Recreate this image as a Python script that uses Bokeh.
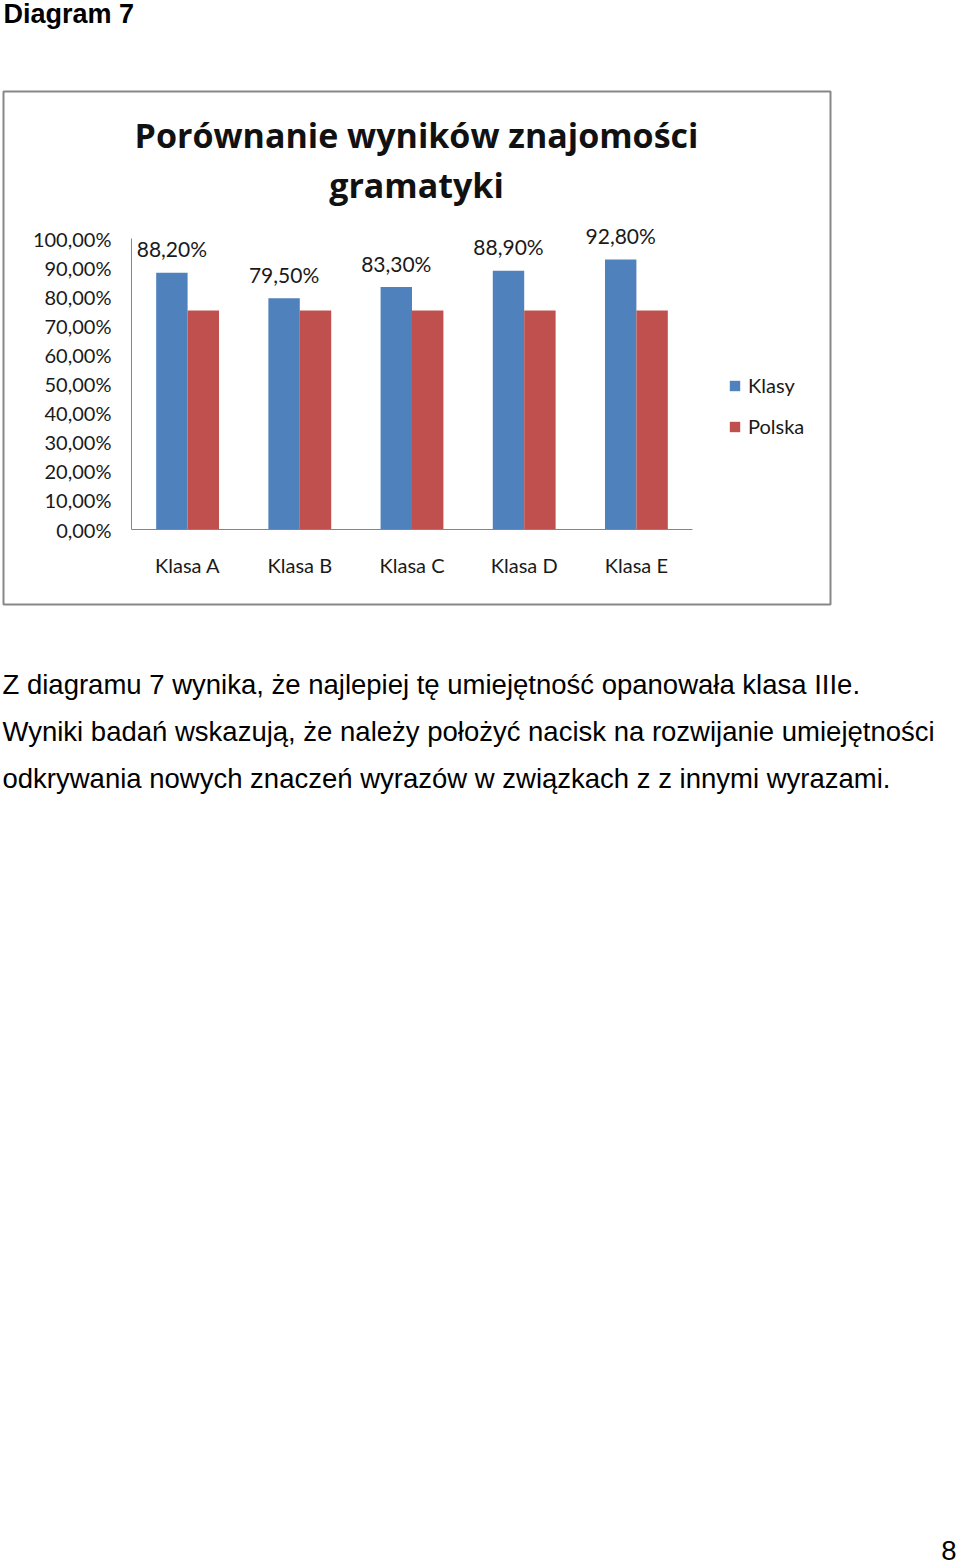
from bokeh.plotting import figure
from bokeh.models import (ColumnDataSource, Range1d, Label, LabelSet,
                          BoxAnnotation, Legend, LegendItem, FixedTicker)
from bokeh.transform import dodge
from bokeh.embed import file_html
from bokeh.resources import INLINE
from bokeh.core.properties import value

# ---- data ----
categories = ["Klasa A", "Klasa B", "Klasa C", "Klasa D", "Klasa E"]
klasy = [88.2, 79.5, 83.3, 88.9, 92.8]
polska = [75.3, 75.3, 75.3, 75.3, 75.3]
y_ticks = [0, 10, 20, 30, 40, 50, 60, 70, 80, 90, 100]
series_names = ["Klasy", "Polska"]

chart_title_1 = "Porównanie wyników znajomości"
chart_title_2 = "gramatyki"
page_heading = "Diagram 7"
paragraph = [
    "Z diagramu 7 wynika, że najlepiej tę umiejętność opanowała klasa IIIe.",
    "Wyniki badań wskazują, że należy położyć nacisk na rozwijanie umiejętności",
    "odkrywania nowych znaczeń wyrazów w związkach z z innymi wyrazami.",
]
page_number = "8"


def pct(v):
    return f"{v:.2f}%".replace(".", ",")


BLUE = "#4F81BD"
RED = "#C0504D"
CHART_FONT = "Lato"
TITLE_FONT = "Open Sans"
PAGE_FONT = "Liberation Sans"
TXT = "#1a1a1a"

# page geometry (pixels)
W, H = 960, 1568
A_LEFT, A_RIGHT, A_TOP, A_BOTTOM = 131, 692, 238, 529   # plot area of the chart
n = len(categories)
cat_w = (A_RIGHT - A_LEFT) / n
x0_px = A_LEFT + cat_w / 2
y_scale = (A_BOTTOM - A_TOP) / 100.0

idx = list(range(n))
src = ColumnDataSource(dict(
    idx=idx, klasy=klasy, polska=polska,
    klasy_lbl=[pct(v) for v in klasy],
))

p = figure(width=W, height=H,
           x_range=Range1d(-x0_px / cat_w, (W - x0_px) / cat_w),
           y_range=Range1d(-(H - A_BOTTOM) / y_scale, A_BOTTOM / y_scale),
           output_backend="svg", toolbar_location=None,
           min_border=0, min_border_left=0, min_border_right=0,
           min_border_top=0, min_border_bottom=0)
p.outline_line_color = None
p.background_fill_color = "white"
p.border_fill_color = "white"
p.xgrid.visible = False
p.ygrid.visible = False

r1 = p.vbar(x=dodge("idx", -0.14), top="klasy", width=0.28,
            source=src, fill_color=BLUE, line_color=None)
r2 = p.vbar(x=dodge("idx", 0.14), top="polska", width=0.28,
            source=src, fill_color=RED, line_color=None)

labels = LabelSet(x=dodge("idx", -0.14), y="klasy", text="klasy_lbl",
                  source=src, y_offset=24, text_align="center", text_baseline="middle",
                  text_font=value(CHART_FONT), text_font_size="21px", text_color=TXT)
p.add_layout(labels)

# axes (placed at the chart's plot-area edges)
xa, ya = p.xaxis[0], p.yaxis[0]
for ax in (xa, ya):
    ax.axis_line_color = "#868686"
    ax.axis_line_width = 1
    ax.major_tick_line_color = None
    ax.minor_tick_line_color = None
    ax.major_tick_out = 0
    ax.major_tick_in = 0
    ax.major_label_text_font = CHART_FONT
    ax.major_label_text_font_size = "20px"
    ax.major_label_text_color = TXT
xa.fixed_location = 0
xa.bounds = (-0.5, n - 0.5)
xa.ticker = FixedTicker(ticks=idx)
xa.major_label_overrides = {i: c for i, c in zip(idx, categories)}
xa.major_label_standoff = 23
ya.fixed_location = -0.5
ya.bounds = (0, 100)
ya.ticker = FixedTicker(ticks=y_ticks)
ya.major_label_overrides = {t: pct(t) for t in y_ticks}
ya.major_label_standoff = 20


def sx(px):
    return px


def sy(py):
    return H - py


# legend
legend = Legend(items=[LegendItem(label=series_names[0], renderers=[r1]),
                       LegendItem(label=series_names[1], renderers=[r2])],
                location=(sx(728), sy(438)),
                glyph_width=13, glyph_height=13, label_height=20, spacing=17,
                label_text_font=CHART_FONT, label_text_font_size="20px",
                label_text_color=TXT, label_standoff=7, label_text_baseline="middle",
                border_line_color=None, background_fill_alpha=0, padding=0, margin=0)
p.add_layout(legend, "center")

# chart box border
p.add_layout(BoxAnnotation(left=sx(3), right=sx(830), top=sy(91), bottom=sy(604),
                           left_units="screen", right_units="screen",
                           top_units="screen", bottom_units="screen",
                           fill_alpha=0, line_color="#878787", line_alpha=1.0,
                           line_width=2))

# chart title
for txt, py in ((chart_title_1, 134), (chart_title_2, 184)):
    p.add_layout(Label(x=sx(416), y=sy(py), x_units="screen", y_units="screen", text=txt,
                       text_align="center", text_baseline="middle",
                       text_font=TITLE_FONT, text_font_style="bold",
                       text_font_size="34px", text_color="#111111"))

# page heading
p.add_layout(Label(x=sx(3), y=sy(13), x_units="screen", y_units="screen", text=page_heading,
                   text_align="left", text_baseline="middle",
                   text_font=PAGE_FONT, text_font_style="bold",
                   text_font_size="27px", text_color="black"))

# paragraph
for txt, py in zip(paragraph, (684, 731, 778)):
    p.add_layout(Label(x=sx(2), y=sy(py), x_units="screen", y_units="screen", text=txt,
                       text_align="left", text_baseline="middle",
                       text_font=PAGE_FONT, text_font_size="27.5px", text_color="black"))

# page number
p.add_layout(Label(x=sx(956), y=sy(1550), x_units="screen", y_units="screen", text=page_number,
                   text_align="right", text_baseline="middle",
                   text_font=PAGE_FONT, text_font_size="27.5px", text_color="black"))

open("out.html", "w").write(file_html(p, INLINE))
